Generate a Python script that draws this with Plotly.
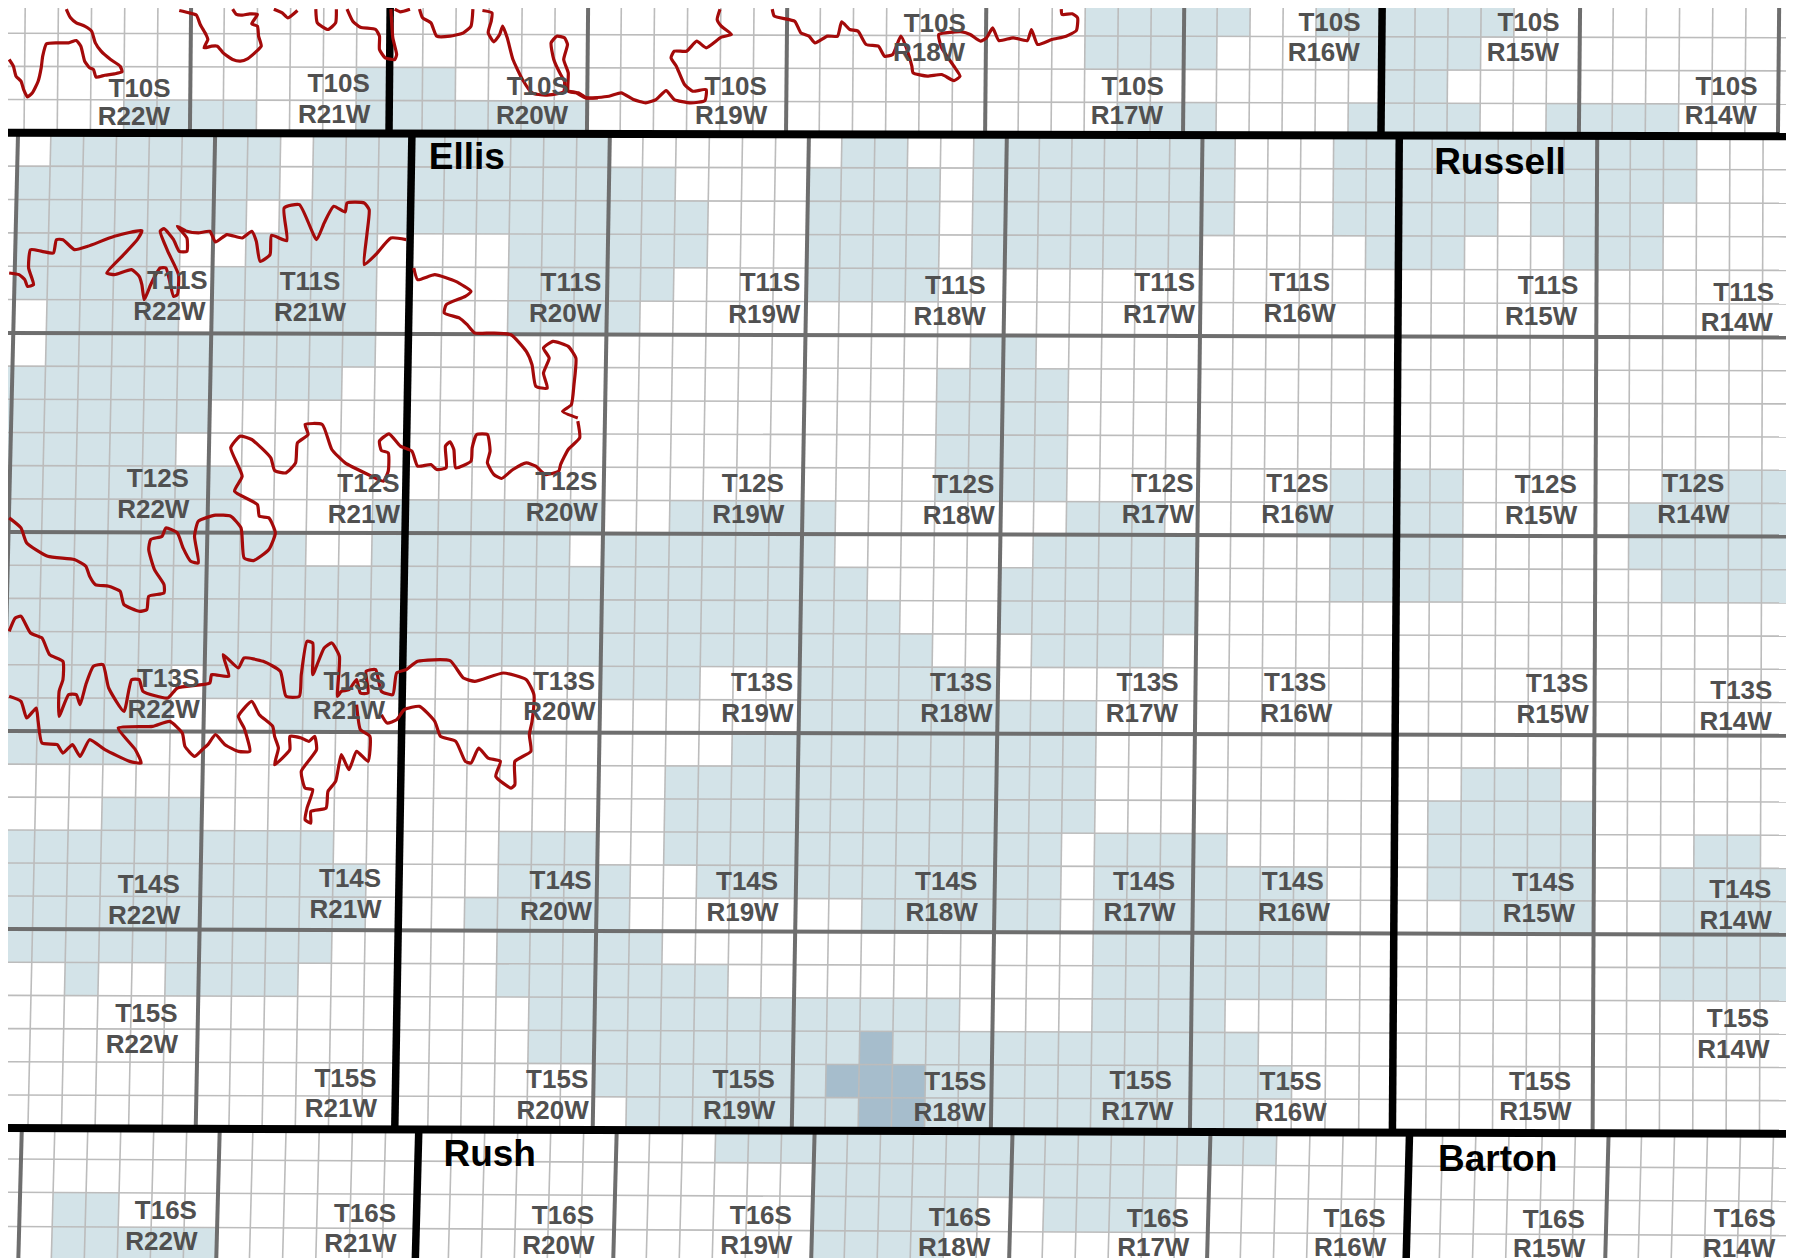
import math
import plotly.graph_objects as go

K = 1568 / 1794  # reading units per screen pixel

# ---- section grid (township-line positions, reading units) ----
TOP_LINES_UPPER = [-7, 167, 341, 514, 688, 862, 1035, 1208, 1381, 1555]
TOP_LINES_LOWER = [-8, 166, 340, 513, 687, 861, 1034, 1207, 1380, 1554]
MID_LINES_UPPER = [15.7, 188, 360, 533, 707, 880, 1051, 1223, 1396, 1570]
MID_LINES_LOWER = [-5, 171, 345, 518, 692, 866, 1040, 1217, 1392, 1567]
BOT_LINES_UPPER = [19, 192, 366, 539, 712, 885, 1058, 1232, 1406, 1579]
BOT_LINES_LOWER = [16, 189, 363, 536, 709, 882, 1055, 1229, 1403, 1576]
TOP_Y_LEFT = [-1, 28, 57, 86, 115]
TOP_Y_RIGHT = [3, 32, 61, 90, 118]
MID_Y_LEFT = [115, 290, 464, 638, 811, 985]
MID_Y_RIGHT = [118, 294, 468, 642, 816, 990]
BOT_Y_LEFT = [985, 1012, 1041, 1071, 1100]
BOT_Y_RIGHT = [990, 1020, 1049, 1079, 1108]

# ---- shaded sections per row: inclusive column ranges ----
TOP_CELLS = [
    [(33, 37), (40, 45)],
    [(33, 36), (41, 44)],
    [(11, 13), (42, 43)],
    [(4, 7), (11, 17), (34, 36), (41, 44), (47, 50)],
]
MID_CELLS = [
    [(1, 7), (9, 17), (25, 26), (29, 36), (40, 50)],
    [(0, 7), (9, 19), (24, 27), (29, 36), (40, 44), (46, 50)],
    [(0, 6), (8, 20), (24, 27), (29, 36), (40, 44), (46, 49)],
    [(0, 4), (7, 10), (15, 20), (24, 27), (29, 35), (41, 43), (47, 49)],
    [(0, 4), (6, 10), (15, 19), (24, 27)],
    [(1, 4), (6, 10), (15, 18)],
    [(1, 10), (29, 30)],
    [(-1, 9), (28, 31)],
    [(-1, 5), (28, 31)],
    [(-1, 4), (28, 31)],
    [(-1, 6), (28, 31), (40, 43), (50, 53)],
    [(-1, 6), (11, 17), (20, 24), (32, 34), (39, 43), (49, 53)],
    [(-1, 8), (11, 16), (18, 24), (31, 35), (40, 43), (49, 53)],
    [(-1, 25), (30, 35), (40, 43), (50, 53)],
    [(-1, 26), (30, 35)],
    [(-1, 27), (31, 34)],
    [(-1, 4), (6, 11), (18, 20), (24, 29)],
    [(-1, 4), (8, 10), (24, 32)],
    [(-1, 3), (22, 32)],
    [(20, 32), (44, 46)],
    [(3, 5), (20, 32), (43, 47)],
    [(-1, 9), (15, 17), (20, 31), (33, 36), (43, 47), (51, 52)],
    [(-1, 10), (15, 18), (21, 31), (33, 39), (43, 47), (50, 53)],
    [(-1, 10), (14, 18), (26, 31), (33, 39), (44, 47), (50, 53)],
    [(-1, 9), (15, 19), (33, 39), (50, 53)],
    [(2, 2), (5, 8), (15, 21), (33, 39), (50, 53)],
    [(16, 28), (33, 36)],
    [(16, 37)],
    [(18, 38)],
    [(19, 37)],
]
DARK_CELLS = {27: [(26, 26)], 28: [(25, 27)], 29: [(26, 27)]}
BOT_CELLS = [
    [(21, 37)],
    [(24, 34)],
    [(1, 2), (24, 28), (31, 34)],
    [(1, 5), (24, 27)],
]

# ---- labels: x, y of the two text lines ----
TOWNSHIPS = ["T10S", "T11S", "T12S", "T13S", "T14S", "T15S", "T16S"]
RANGES = ["R22W", "R21W", "R20W", "R19W", "R18W", "R17W", "R16W", "R15W", "R14W"]
LABEL_T = [
    [(122, 78), (296, 74), (470, 76), (643, 76), (817, 21), (990, 76), (1162, 20), (1336, 20), (1509, 76)],
    [(155, 246), (271, 247), (499, 248), (673, 248), (835, 250), (1018, 248), (1136, 248), (1353, 250), (1524, 256)],
    [(138, 419), (322, 423), (495, 422), (658, 423), (842, 424), (1016, 423), (1134, 423), (1351, 424), (1480, 423)],
    [(147, 594), (310, 596), (493, 596), (666, 597), (840, 597), (1003, 597), (1132, 597), (1361, 598), (1522, 604)],
    [(130, 774), (306, 769), (490, 770), (653, 771), (827, 771), (1000, 771), (1130, 771), (1349, 772), (1521, 778)],
    [(128, 887), (302, 943), (487, 944), (650, 944), (835, 946), (997, 945), (1128, 946), (1346, 946), (1519, 891)],
    [(145, 1059), (319, 1061), (492, 1063), (665, 1063), (839, 1065), (1012, 1066), (1184, 1066), (1358, 1067), (1525, 1066)],
]
LABEL_R = [
    [(117, 103), (292, 101), (465, 102), (639, 102), (812, 47), (985, 102), (1157, 47), (1331, 47), (1504, 102)],
    [(148, 273), (271, 274), (494, 275), (668, 276), (830, 277), (1013, 276), (1136, 275), (1347, 277), (1518, 283)],
    [(134, 446), (318, 450), (491, 449), (654, 450), (838, 451), (1012, 450), (1134, 450), (1347, 451), (1480, 450)],
    [(143, 621), (305, 622), (489, 623), (662, 624), (836, 624), (998, 624), (1133, 624), (1357, 625), (1517, 631)],
    [(126, 801), (302, 796), (486, 797), (649, 798), (823, 798), (996, 798), (1131, 798), (1345, 799), (1517, 805)],
    [(124, 914), (298, 970), (483, 971), (646, 971), (830, 973), (994, 972), (1128, 973), (1342, 972), (1515, 918)],
    [(141, 1086), (315, 1088), (488, 1089), (661, 1089), (834, 1091), (1008, 1091), (1180, 1091), (1354, 1092), (1520, 1092)],
]
COUNTIES = ["Ellis", "Russell", "Rush", "Barton"]
COUNTY_XY = [(408, 139), (1311, 143), (428, 1010), (1309, 1014)]

# ---- escarpment outlines, read in crop frames (x0, y0 in px of each crop) ----
FRAME_A = (0, 0, 3.0)
FRAME_C = (0, 420, 3.0)
FRAME_D = (560, 0, 2.803)
OUTLINES_A = [
    [(24, 175), (35, 195), (42, 225), (55, 240), (62, 265), (72, 287), (85, 275), (100, 240), (108, 200), (112, 165), (122, 128), (150, 125), (180, 125), (200, 118), (212, 135), (222, 180), (235, 200), (245, 205), (252, 228), (275, 222), (300, 218), (320, 212), (315, 195), (290, 175), (265, 150), (250, 125), (240, 90), (222, 75), (200, 65), (185, 50), (176, 30), (174, 24)],
    [(470, 28), (495, 35), (515, 42), (525, 70), (540, 100), (545, 115), (535, 140), (555, 135), (570, 135), (585, 155), (610, 175), (630, 180), (650, 172), (668, 155), (685, 135), (678, 105), (675, 75), (660, 68), (675, 40), (655, 38), (635, 42), (620, 40), (610, 24)],
    [(718, 24), (740, 35), (755, 50), (780, 28)],
    [(828, 24), (832, 65), (860, 85), (880, 65), (882, 24)],
    [(910, 24), (925, 60), (945, 78), (985, 85), (995, 105), (995, 145), (1010, 170), (1035, 175), (1040, 160), (1030, 110), (1025, 24)],
    [(1035, 24), (1050, 32), (1075, 24)],
    [(1100, 24), (1108, 50), (1130, 65), (1145, 105), (1180, 105), (1215, 95), (1235, 75), (1240, 24)],
    [(1265, 28), (1290, 35), (1288, 60), (1280, 95), (1295, 122), (1310, 100), (1318, 75), (1330, 110), (1345, 175), (1370, 235), (1395, 275), (1430, 282), (1478, 272), (1480, 240), (1470, 220), (1452, 175), (1445, 125), (1460, 105), (1480, 110), (1488, 130), (1478, 175), (1490, 215), (1490, 270), (1510, 275), (1535, 290), (1568, 290)],
    [(24, 815), (50, 820), (65, 835), (72, 855), (88, 850), (75, 800), (80, 745), (110, 750), (140, 755), (148, 715), (165, 715), (195, 745), (230, 735), (300, 705), (372, 688), (360, 715), (320, 765), (280, 815), (300, 820), (345, 805), (365, 825), (372, 850), (378, 895), (388, 870), (395, 850), (420, 800), (435, 800), (445, 840), (455, 885), (465, 880), (468, 820), (440, 750), (420, 690), (430, 682), (455, 715), (470, 750), (490, 750), (490, 710), (465, 675), (490, 690), (520, 695), (550, 690), (565, 722), (595, 700), (635, 710), (660, 690), (672, 720), (682, 780), (708, 760), (712, 702), (752, 718), (745, 620), (785, 610), (830, 715), (850, 665), (875, 615), (905, 632), (910, 605), (955, 605), (968, 625), (962, 700), (955, 790), (985, 760), (1025, 710), (1065, 715)],
    [(1085, 800), (1095, 835), (1140, 820), (1195, 840), (1235, 870), (1220, 885), (1170, 910), (1165, 935), (1205, 950), (1225, 970), (1245, 995), (1290, 995), (1340, 1000), (1380, 1050), (1395, 1090), (1405, 1155), (1435, 1160), (1425, 1115), (1440, 1070), (1425, 1040), (1450, 1020), (1490, 1035), (1510, 1070), (1505, 1150), (1498, 1210), (1475, 1230), (1515, 1250)],
]
OUTLINES_C = [
    [(1515, 0), (1520, 50), (1490, 85), (1470, 130), (1465, 150), (1430, 160), (1405, 135), (1380, 125), (1345, 145), (1315, 172), (1295, 160), (1278, 125), (1285, 90), (1278, 40), (1250, 40), (1238, 80), (1235, 120), (1195, 140), (1190, 85), (1180, 62), (1168, 75), (1170, 140), (1145, 145), (1130, 130), (1095, 135), (1080, 90), (1050, 75), (1020, 38), (995, 60), (1000, 88), (1018, 95), (1018, 150), (1005, 180), (965, 160), (905, 125), (870, 85), (845, 10), (800, 10), (808, 40), (780, 65), (775, 125), (750, 155), (720, 148), (710, 110), (660, 55), (630, 45), (605, 80), (635, 165), (615, 210), (675, 250), (680, 285), (705, 290), (722, 335), (705, 385), (665, 418), (640, 410), (632, 320), (605, 285), (565, 282), (520, 300), (510, 345), (520, 425), (500, 420), (480, 380), (465, 335), (435, 320), (425, 345), (395, 355), (390, 385), (405, 445), (430, 490), (430, 515), (390, 525), (385, 565), (365, 570), (325, 550), (315, 510), (285, 495), (250, 490), (235, 465), (225, 435), (195, 415), (125, 405), (70, 365), (55, 320), (24, 290)],
    [(24, 630), (40, 590), (55, 585), (80, 635), (110, 650), (130, 700), (165, 720), (165, 775), (155, 810), (155, 885), (180, 820), (200, 820), (210, 850), (225, 790), (245, 735), (270, 730), (285, 800), (325, 870), (345, 775), (365, 775), (375, 810), (440, 830), (465, 800), (550, 785), (555, 760), (600, 765), (585, 700), (625, 740), (640, 710), (690, 720), (735, 750), (750, 825), (785, 825), (790, 760), (805, 660), (820, 665), (820, 760), (850, 680), (870, 665), (890, 705), (885, 825), (895, 810), (915, 805), (935, 775), (945, 815), (965, 815), (960, 750), (985, 745), (1000, 810), (1030, 820), (1040, 755), (1065, 745), (1095, 720), (1180, 718), (1215, 770), (1245, 780), (1320, 755), (1380, 775), (1400, 820), (1395, 900), (1388, 940), (1392, 990), (1350, 1020), (1350, 1090), (1340, 1100), (1300, 1065), (1312, 1020), (1280, 1010), (1255, 980), (1235, 1025), (1220, 1020), (1195, 960), (1155, 945), (1140, 900), (1100, 855), (1060, 865), (1040, 895), (1015, 905), (1000, 880)],
    [(935, 850), (945, 925), (970, 945), (965, 1020), (935, 990), (915, 1045), (895, 1000), (880, 1080), (860, 1110), (855, 1160), (815, 1170), (815, 1205), (800, 1195), (805, 1160), (820, 1105), (800, 1100), (790, 1050), (830, 985), (825, 945), (810, 960), (790, 950), (760, 945), (760, 985), (720, 1030), (730, 980), (720, 945), (715, 915), (680, 880), (660, 840), (625, 885), (640, 920), (655, 990), (625, 990), (590, 970), (565, 940), (545, 970), (530, 985), (510, 1005), (485, 975), (478, 935), (445, 900), (400, 915), (310, 920), (355, 985), (370, 1025), (340, 1020), (275, 985), (235, 955), (210, 1005), (190, 970), (165, 995), (150, 970), (110, 965), (100, 900), (95, 860), (70, 890), (55, 840), (24, 825)],
]
OUTLINES_D = [
    [(22, 270), (45, 275), (65, 290), (120, 285), (150, 275), (180, 295), (210, 305), (235, 295), (260, 268), (280, 295), (320, 305), (355, 298), (358, 265), (325, 270), (305, 250), (285, 195), (272, 170), (280, 150), (310, 150), (335, 120), (358, 140), (395, 108), (420, 100), (395, 75), (385, 55), (392, 24)],
    [(520, 24), (525, 45), (575, 60), (590, 95), (610, 105), (625, 125), (655, 105), (680, 105), (690, 62), (710, 85), (730, 90), (750, 130), (780, 135), (795, 165), (815, 160), (835, 105), (850, 145), (862, 195), (865, 215), (900, 225), (935, 220), (965, 238), (980, 225), (965, 195), (935, 140), (928, 100), (985, 92), (1005, 100), (1030, 120), (1045, 110), (1060, 80), (1075, 118), (1110, 110), (1145, 118), (1155, 85), (1170, 130), (1205, 115), (1240, 105), (1265, 88), (1268, 50), (1255, 38), (1230, 40), (1228, 24)],
]

# ---- styles ----
CELL = "#d3e3e8"
DARK = "#a6bdcc"
SECTION = "#bcbcbc"
TOWNSHIP = "#6e6e6e"
BLACK = "#000000"
RED = "#a40a0a"
TEXT = "#505050"


def lines_x(upper, lower, y_top, y_bot, c, y):
    idx = c / 6
    i = min(max(int(math.floor(idx)), 0), len(upper) - 2)
    f = idx - i
    u = upper[i] + (upper[i + 1] - upper[i]) * f
    l = lower[i] + (lower[i + 1] - lower[i]) * f
    return u + (l - u) * (y - y_top) / (y_bot - y_top)


def row_y(left, right, r, x, per):
    idx = r / per
    i = min(max(int(math.floor(idx)), 0), len(left) - 2)
    f = idx - i
    a = left[i] + (left[i + 1] - left[i]) * f
    b = right[i] + (right[i + 1] - right[i]) * f
    return a + (b - a) * (x - 7) / (1561 - 7)


BLOCKS = {
    "top": (TOP_LINES_UPPER, TOP_LINES_LOWER, 8, 115, TOP_Y_LEFT, TOP_Y_RIGHT, 1),
    "mid": (MID_LINES_UPPER, MID_LINES_LOWER, 118, 988, MID_Y_LEFT, MID_Y_RIGHT, 6),
    "bot": (BOT_LINES_UPPER, BOT_LINES_LOWER, 988, 1100, BOT_Y_LEFT, BOT_Y_RIGHT, 1),
}


def corner(block, c, r):
    up, lo, yt, yb, yl, yr, per = BLOCKS[block]
    x = lines_x(up, lo, yt, yb, c, (yt + yb) / 2)
    y = row_y(yl, yr, r, x, per)
    return lines_x(up, lo, yt, yb, c, y), y


def cells_xy(block, rows):
    xs, ys = [], []
    for r, ranges in rows:
        for a, b in ranges:
            pts = [corner(block, a, r), corner(block, b + 1, r),
                   corner(block, b + 1, r + 1), corner(block, a, r + 1)]
            pts.append(pts[0])
            xs += [p[0] for p in pts] + [None]
            ys += [p[1] for p in pts] + [None]
    return xs, ys


fig = go.Figure()


def add_cells(block, rows, color):
    xs, ys = cells_xy(block, rows)
    fig.add_trace(go.Scatter(x=xs, y=ys, mode="none", fill="toself",
                             fillcolor=color, hoverinfo="skip", showlegend=False))


add_cells("top", list(enumerate(TOP_CELLS)), CELL)
add_cells("mid", list(enumerate(MID_CELLS)), CELL)
add_cells("mid", list(DARK_CELLS.items()), DARK)
add_cells("bot", list(enumerate(BOT_CELLS)), CELL)


def vlines(block, cols):
    up, lo, yt, yb, yl, yr, per = BLOCKS[block]
    n = (len(yl) - 1) * per
    xs, ys = [], []
    for c in cols:
        x = lines_x(up, lo, yt, yb, c, (yt + yb) / 2)
        y0, y1 = row_y(yl, yr, 0, x, per), row_y(yl, yr, n, x, per)
        xs += [lines_x(up, lo, yt, yb, c, y0), lines_x(up, lo, yt, yb, c, y1), None]
        ys += [y0, y1, None]
    return xs, ys


def hlines(block, rows):
    up, lo, yt, yb, yl, yr, per = BLOCKS[block]
    xs, ys = [], []
    for r in rows:
        xs += [0, 1568, None]
        ys += [row_y(yl, yr, r, 0, per), row_y(yl, yr, r, 1568, per), None]
    return xs, ys


def stroke(xy, color, width):
    fig.add_trace(go.Scatter(x=xy[0], y=xy[1], mode="lines", hoverinfo="skip", showlegend=False,
                             line=dict(color=color, width=width)))


SEC_COLS = [c for c in range(-1, 55) if c % 6]
for b, rows in (("top", [1, 2, 3]), ("mid", [r for r in range(1, 30) if r % 6]), ("bot", [1, 2, 3, 4])):
    stroke(vlines(b, SEC_COLS), SECTION, 1.6)
    stroke(hlines(b, rows), SECTION, 1.6)
for b in ("top", "mid", "bot"):
    stroke(vlines(b, [0, 6, 18, 24, 30, 36, 48, 54]), TOWNSHIP, 4)
stroke(hlines("mid", [6, 12, 18, 24]), TOWNSHIP, 4)
for b, cols in (("top", [12, 42]), ("mid", [12, 42]), ("bot", [12, 42])):
    stroke(vlines(b, cols), BLACK, 7.5)
stroke(hlines("mid", [0, 30]), BLACK, 8)


def outline_xy(paths, frame):
    x0, y0, sx = frame
    xs, ys = [], []
    for p in paths:
        xs += [x0 * K + a / sx for a, _ in p] + [None]
        ys += [y0 * K + b / 3.43 for _, b in p] + [None]
    return xs, ys


for paths, frame in ((OUTLINES_A, FRAME_A), (OUTLINES_C, FRAME_C), (OUTLINES_D, FRAME_D)):
    xs, ys = outline_xy(paths, frame)
    fig.add_trace(go.Scatter(x=xs, y=ys, mode="lines", hoverinfo="skip", showlegend=False,
                             line=dict(color=RED, width=3.2, shape="spline", smoothing=0.5)))

lx, ly, lt = [], [], []
for i, t in enumerate(TOWNSHIPS):
    for j, r in enumerate(RANGES):
        lx += [LABEL_T[i][j][0], LABEL_R[i][j][0]]
        ly += [LABEL_T[i][j][1], LABEL_R[i][j][1]]
        lt += [t, r]
fig.add_trace(go.Scatter(x=lx, y=ly, text=lt, mode="text", textposition="middle center",
                         hoverinfo="skip", showlegend=False, cliponaxis=False,
                         textfont=dict(family="Liberation Sans", size=26, color=TEXT, weight=700)))
fig.add_trace(go.Scatter(x=[p[0] for p in COUNTY_XY], y=[p[1] for p in COUNTY_XY], text=COUNTIES,
                         mode="text", textposition="middle center", hoverinfo="skip", showlegend=False,
                         cliponaxis=False,
                         textfont=dict(family="Liberation Sans", size=37, color=BLACK, weight=700)))

fig.update_layout(
    width=1778, height=1250, margin=dict(l=0, r=0, t=0, b=0),
    paper_bgcolor="white", plot_bgcolor="white", showlegend=False,
    xaxis=dict(range=[8 * K, 1786 * K], visible=False, fixedrange=True),
    yaxis=dict(range=[1258 * K - 1, 8 * K - 1], visible=False, fixedrange=True),
)
fig.write_html("out.html")
